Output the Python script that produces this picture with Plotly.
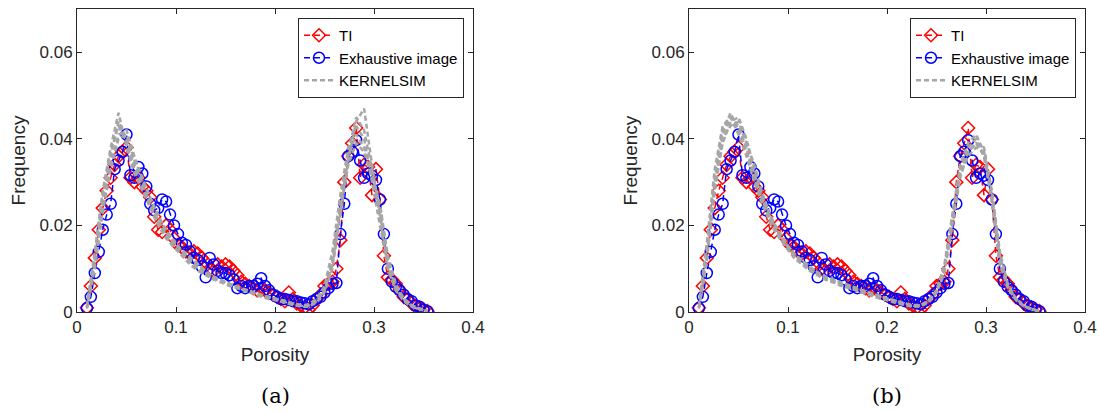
import plotly.graph_objects as go

# Histogram bin centres (porosity) for the reference curves
porosity_bins = [
    0.010, 0.014, 0.018, 0.022, 0.026, 0.030, 0.034, 0.038, 0.042, 0.046,
    0.050, 0.054, 0.058, 0.062, 0.066, 0.070, 0.074, 0.078, 0.082, 0.086,
    0.090, 0.094, 0.098, 0.102, 0.106, 0.110, 0.114, 0.118, 0.122, 0.126,
    0.130, 0.134, 0.138, 0.142, 0.146, 0.150, 0.154, 0.158, 0.162, 0.166,
    0.170, 0.174, 0.178, 0.182, 0.186, 0.190, 0.194, 0.198, 0.202, 0.206,
    0.210, 0.214, 0.218, 0.222, 0.226, 0.230, 0.234, 0.238, 0.242, 0.246,
    0.250, 0.254, 0.258, 0.262, 0.266, 0.270, 0.274, 0.278, 0.282, 0.286,
    0.290, 0.294, 0.298, 0.302, 0.306, 0.310, 0.314, 0.318, 0.322, 0.326,
    0.330, 0.334, 0.338, 0.342, 0.346, 0.350, 0.354,
]

# Training image porosity histogram
ti_freq = [
    0.0010, 0.0060, 0.0125, 0.0190, 0.0240, 0.0280, 0.0310, 0.0340, 0.0360, 0.0370,
    0.0380, 0.0310, 0.0300, 0.0310, 0.0290, 0.0280, 0.0265, 0.0220, 0.0190, 0.0185,
    0.0200, 0.0190, 0.0170, 0.0155, 0.0150, 0.0140, 0.0135, 0.0140, 0.0135, 0.0125,
    0.0115, 0.0100, 0.0095, 0.0110, 0.0105, 0.0110, 0.0105, 0.0095, 0.0085, 0.0070,
    0.0065, 0.0060, 0.0055, 0.0050, 0.0055, 0.0050, 0.0045, 0.0040, 0.0035, 0.0030,
    0.0025, 0.0045, 0.0030, 0.0020, 0.0015, 0.0010, 0.0005, 0.0015, 0.0030, 0.0040,
    0.0060, 0.0065, 0.0070, 0.0100, 0.0166, 0.0300, 0.0360, 0.0390, 0.0425, 0.0310,
    0.0340, 0.0335, 0.0270, 0.0330, 0.0260, 0.0130, 0.0080, 0.0075, 0.0065, 0.0050,
    0.0035, 0.0030, 0.0020, 0.0012, 0.0010, 0.0006, 0.0002,
]

# Exhaustive image porosity histogram
exhaustive_freq = [
    0.0009, 0.0035, 0.0090, 0.0139, 0.0190, 0.0225, 0.0250, 0.0330, 0.0350, 0.0370,
    0.0410, 0.0316, 0.0310, 0.0335, 0.0320, 0.0290, 0.0250, 0.0235, 0.0240, 0.0260,
    0.0255, 0.0225, 0.0200, 0.0180, 0.0160, 0.0155, 0.0140, 0.0125, 0.0120, 0.0105,
    0.0080, 0.0125, 0.0110, 0.0095, 0.0090, 0.0090, 0.0085, 0.0075, 0.0055, 0.0060,
    0.0055, 0.0060, 0.0060, 0.0065, 0.0078, 0.0060, 0.0050, 0.0040, 0.0035, 0.0030,
    0.0030, 0.0028, 0.0025, 0.0025, 0.0022, 0.0020, 0.0018, 0.0025, 0.0030, 0.0035,
    0.0045, 0.0055, 0.0065, 0.0067, 0.0180, 0.0250, 0.0360, 0.0370, 0.0397, 0.0350,
    0.0310, 0.0320, 0.0315, 0.0305, 0.0260, 0.0180, 0.0100, 0.0070, 0.0058, 0.0050,
    0.0040, 0.0030, 0.0025, 0.0015, 0.0012, 0.0005, 0.0002,
]

# Bin centres for the KERNELSIM realisation histograms
sim_bins = [
    0.010, 0.018, 0.026, 0.034, 0.042, 0.050, 0.058, 0.066, 0.074, 0.082,
    0.090, 0.098, 0.106, 0.114, 0.122, 0.130, 0.138, 0.146, 0.154, 0.162,
    0.170, 0.178, 0.186, 0.194, 0.202, 0.210, 0.218, 0.226, 0.234, 0.242,
    0.250, 0.258, 0.266, 0.274, 0.282, 0.290, 0.298, 0.306, 0.314, 0.322,
    0.330, 0.338, 0.346, 0.354,
]

# KERNELSIM realisations, case (a)
sim_a1 = [0.0010, 0.0120, 0.0260, 0.0360, 0.0440, 0.0400, 0.0340, 0.0300, 0.0250, 0.0210,
          0.0180, 0.0160, 0.0140, 0.0120, 0.0105, 0.0090, 0.0080, 0.0070, 0.0065, 0.0060,
          0.0050, 0.0045, 0.0040, 0.0035, 0.0030, 0.0025, 0.0020, 0.0015, 0.0015, 0.0025,
          0.0050, 0.0120, 0.0240, 0.0360, 0.0410, 0.0380, 0.0320, 0.0240, 0.0120, 0.0060,
          0.0030, 0.0015, 0.0008, 0.0003]
sim_a2 = [0.0015, 0.0140, 0.0280, 0.0380, 0.0460, 0.0380, 0.0320, 0.0280, 0.0240, 0.0200,
          0.0170, 0.0150, 0.0130, 0.0110, 0.0095, 0.0085, 0.0075, 0.0068, 0.0060, 0.0055,
          0.0050, 0.0042, 0.0035, 0.0030, 0.0028, 0.0020, 0.0018, 0.0012, 0.0012, 0.0022,
          0.0045, 0.0100, 0.0220, 0.0350, 0.0440, 0.0470, 0.0340, 0.0220, 0.0100, 0.0050,
          0.0025, 0.0012, 0.0006, 0.0002]
sim_a3 = [0.0010, 0.0110, 0.0240, 0.0340, 0.0410, 0.0420, 0.0360, 0.0310, 0.0260, 0.0220,
          0.0190, 0.0165, 0.0140, 0.0125, 0.0110, 0.0095, 0.0080, 0.0072, 0.0062, 0.0058,
          0.0052, 0.0045, 0.0038, 0.0032, 0.0026, 0.0022, 0.0016, 0.0014, 0.0018, 0.0030,
          0.0060, 0.0140, 0.0270, 0.0380, 0.0430, 0.0400, 0.0300, 0.0200, 0.0100, 0.0050,
          0.0028, 0.0014, 0.0007, 0.0002]
sim_a4 = [0.0012, 0.0130, 0.0270, 0.0370, 0.0430, 0.0390, 0.0330, 0.0290, 0.0245, 0.0210,
          0.0175, 0.0150, 0.0135, 0.0118, 0.0098, 0.0088, 0.0078, 0.0072, 0.0064, 0.0056,
          0.0048, 0.0044, 0.0038, 0.0034, 0.0029, 0.0024, 0.0019, 0.0016, 0.0016, 0.0027,
          0.0052, 0.0110, 0.0250, 0.0370, 0.0450, 0.0420, 0.0330, 0.0230, 0.0110, 0.0055,
          0.0030, 0.0014, 0.0007, 0.0002]
sim_a5 = [0.0008, 0.0100, 0.0230, 0.0330, 0.0400, 0.0410, 0.0350, 0.0310, 0.0265, 0.0225,
          0.0185, 0.0160, 0.0145, 0.0128, 0.0112, 0.0092, 0.0082, 0.0074, 0.0066, 0.0058,
          0.0052, 0.0046, 0.0040, 0.0034, 0.0030, 0.0026, 0.0020, 0.0016, 0.0014, 0.0024,
          0.0048, 0.0110, 0.0230, 0.0340, 0.0390, 0.0370, 0.0310, 0.0250, 0.0130, 0.0065,
          0.0032, 0.0016, 0.0008, 0.0003]

# KERNELSIM realisations, case (b)
sim_b1 = [0.0010, 0.0130, 0.0300, 0.0410, 0.0450, 0.0430, 0.0380, 0.0310, 0.0260, 0.0210,
          0.0180, 0.0155, 0.0130, 0.0115, 0.0100, 0.0088, 0.0078, 0.0072, 0.0065, 0.0058,
          0.0052, 0.0046, 0.0040, 0.0034, 0.0028, 0.0024, 0.0018, 0.0014, 0.0014, 0.0024,
          0.0048, 0.0100, 0.0210, 0.0330, 0.0380, 0.0400, 0.0360, 0.0260, 0.0120, 0.0060,
          0.0030, 0.0014, 0.0007, 0.0002]
sim_b2 = [0.0015, 0.0160, 0.0330, 0.0430, 0.0450, 0.0410, 0.0360, 0.0300, 0.0250, 0.0205,
          0.0175, 0.0150, 0.0125, 0.0110, 0.0095, 0.0085, 0.0074, 0.0068, 0.0060, 0.0055,
          0.0048, 0.0042, 0.0036, 0.0030, 0.0026, 0.0020, 0.0016, 0.0012, 0.0013, 0.0022,
          0.0044, 0.0090, 0.0200, 0.0310, 0.0370, 0.0390, 0.0380, 0.0280, 0.0140, 0.0065,
          0.0032, 0.0015, 0.0007, 0.0002]
sim_b3 = [0.0010, 0.0120, 0.0280, 0.0390, 0.0440, 0.0450, 0.0400, 0.0330, 0.0270, 0.0220,
          0.0190, 0.0160, 0.0135, 0.0120, 0.0105, 0.0090, 0.0080, 0.0074, 0.0066, 0.0060,
          0.0054, 0.0047, 0.0041, 0.0035, 0.0030, 0.0025, 0.0019, 0.0015, 0.0016, 0.0026,
          0.0050, 0.0110, 0.0220, 0.0340, 0.0390, 0.0410, 0.0370, 0.0250, 0.0110, 0.0055,
          0.0028, 0.0013, 0.0006, 0.0002]
sim_b4 = [0.0012, 0.0140, 0.0310, 0.0420, 0.0460, 0.0420, 0.0370, 0.0320, 0.0255, 0.0215,
          0.0178, 0.0152, 0.0128, 0.0112, 0.0098, 0.0086, 0.0076, 0.0070, 0.0062, 0.0056,
          0.0050, 0.0044, 0.0038, 0.0032, 0.0027, 0.0022, 0.0017, 0.0013, 0.0015, 0.0025,
          0.0046, 0.0095, 0.0210, 0.0320, 0.0360, 0.0380, 0.0370, 0.0270, 0.0130, 0.0060,
          0.0030, 0.0014, 0.0007, 0.0002]
sim_b5 = [0.0008, 0.0120, 0.0290, 0.0400, 0.0430, 0.0440, 0.0390, 0.0340, 0.0275, 0.0225,
          0.0185, 0.0158, 0.0135, 0.0118, 0.0102, 0.0092, 0.0082, 0.0075, 0.0068, 0.0061,
          0.0054, 0.0048, 0.0042, 0.0036, 0.0030, 0.0026, 0.0020, 0.0016, 0.0016, 0.0026,
          0.0050, 0.0105, 0.0220, 0.0330, 0.0370, 0.0390, 0.0360, 0.0260, 0.0125, 0.0060,
          0.0030, 0.0015, 0.0007, 0.0002]

x_ticks = [0, 0.1, 0.2, 0.3, 0.4]
x_tick_labels = ["0", "0.1", "0.2", "0.3", "0.4"]
y_ticks = [0, 0.02, 0.04, 0.06]
y_tick_labels = ["0", "0.02", "0.04", "0.06"]

panels = [
    {"sims": [sim_a1, sim_a2, sim_a3, sim_a4, sim_a5], "caption": "(a)"},
    {"sims": [sim_b1, sim_b2, sim_b3, sim_b4, sim_b5], "caption": "(b)"},
]

W, H = 1100, 413
axis_color = "#262626"
sans = "Liberation Sans, Arial, sans-serif"
red, blue, gray = "#FF0000", "#0000FF", "#A6A6A6"

x_domains = [[77 / W, 473 / W], [689 / W, 1085 / W]]
y_domain = [1 - 312 / H, 1 - 9 / H]

fig = go.Figure()

for i, panel in enumerate(panels):
    suffix = "" if i == 0 else str(i + 1)
    xa, ya = "x" + suffix, "y" + suffix
    legend_name = "legend" if i == 0 else "legend2"

    fig.add_trace(go.Scatter(
        x=porosity_bins, y=ti_freq, name="TI", xaxis=xa, yaxis=ya,
        mode="lines+markers", legend=legend_name,
        line=dict(color=red, width=1.5, dash="6px,4px"),
        marker=dict(symbol="diamond-open", size=10, color=red, line=dict(width=1.5, color=red)),
    ))
    fig.add_trace(go.Scatter(
        x=porosity_bins, y=exhaustive_freq, name="Exhaustive image", xaxis=xa, yaxis=ya,
        mode="lines+markers", legend=legend_name,
        line=dict(color=blue, width=1.5, dash="6px,4px"),
        marker=dict(symbol="circle-open", size=11, color=blue, line=dict(width=1.5, color=blue)),
    ))
    for k, sim in enumerate(panel["sims"]):
        fig.add_trace(go.Scatter(
            x=sim_bins, y=sim, name="KERNELSIM", xaxis=xa, yaxis=ya,
            mode="lines", legend=legend_name, showlegend=(k == 0),
            line=dict(color=gray, width=2.5, dash="5px,3px"),
        ))

    common = dict(
        showline=True, linecolor=axis_color, linewidth=1, mirror="ticks",
        ticks="inside", ticklen=5, tickwidth=1, tickcolor=axis_color,
        showgrid=False, zeroline=False, automargin=False,
        tickfont=dict(family=sans, size=17, color=axis_color),
    )
    fig.layout["xaxis" + suffix] = dict(
        common, domain=x_domains[i], range=[0, 0.4], anchor=ya,
        tickvals=x_ticks, ticktext=x_tick_labels,
        title=dict(text="Porosity", font=dict(family=sans, size=19, color=axis_color), standoff=11),
    )
    fig.layout["yaxis" + suffix] = dict(
        common, domain=y_domain, range=[0, 0.07], anchor=xa,
        tickvals=y_ticks, ticktext=y_tick_labels,
        title=dict(text="Frequency", font=dict(family=sans, size=19, color=axis_color), standoff=8),
    )

    fig.layout[legend_name] = dict(
        x=x_domains[i][1] - 9 / W, y=1 - 18 / H, xanchor="right", yanchor="top",
        bgcolor="white", bordercolor=axis_color, borderwidth=1,
        font=dict(family=sans, size=15, color="#000000"),
        tracegroupgap=0, itemwidth=30,
    )

    fig.add_annotation(
        x=(x_domains[i][0] + x_domains[i][1]) / 2, y=1 - 396 / H,
        xref="paper", yref="paper", xanchor="center", yanchor="middle",
        text=panel["caption"], showarrow=False,
        font=dict(family="DejaVu Serif, Liberation Serif, serif", size=21, color="#000000"),
    )

fig.update_layout(
    width=W, height=H, margin=dict(l=0, r=0, t=0, b=0, autoexpand=False),
    paper_bgcolor="white", plot_bgcolor="white",
)

fig.write_html("out.html")
